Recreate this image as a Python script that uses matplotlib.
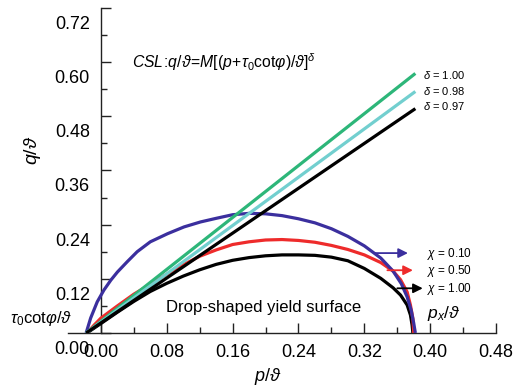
import matplotlib
matplotlib.use("Agg")
import matplotlib.pyplot as plt
import matplotlib.transforms as mtransforms
from matplotlib.ticker import FixedLocator

plt.rcParams['font.family'] = ['Liberation Sans', 'DejaVu Sans']
plt.rcParams['mathtext.fontset'] = 'custom'
plt.rcParams['mathtext.rm'] = 'Liberation Sans'
plt.rcParams['mathtext.it'] = 'Liberation Sans:italic'
plt.rcParams['mathtext.sf'] = 'Liberation Sans'

# critical state lines, q/theta against p/theta
csl_p = [-0.018, 0.382]
csl_deltas = ["1.00", "0.98", "0.97"]
csl_q = {
    "1.00": [0.0, 0.575],
    "0.98": [0.0, 0.535],
    "0.97": [0.0, 0.497],
}
csl_colors = {"1.00": "#2db679", "0.98": "#72cfcf", "0.97": "#000000"}
delta_label_q = [0.572, 0.535, 0.502]

# drop-shaped yield surfaces
chi_labels = ["0.10", "0.50", "1.00"]
ys_p = {
    "0.10": [-0.018, -0.0125, -0.0045, 0.0036, 0.012, 0.020, 0.032, 0.044, 0.060,
             0.081, 0.101, 0.121, 0.14, 0.16, 0.18, 0.20, 0.22, 0.24, 0.26, 0.28,
             0.30, 0.32, 0.34, 0.355, 0.365, 0.372, 0.377, 0.380, 0.382],
    "0.50": [-0.017, -0.008, 0.0, 0.02, 0.04, 0.06, 0.08, 0.10, 0.12, 0.14, 0.16,
             0.18, 0.20, 0.22, 0.24, 0.26, 0.28, 0.30, 0.32, 0.34, 0.355, 0.364,
             0.372, 0.376, 0.379, 0.380],
    "1.00": [-0.017, 0.0, 0.02, 0.04, 0.06, 0.08, 0.10, 0.12, 0.14, 0.16, 0.18,
             0.20, 0.22, 0.24, 0.26, 0.28, 0.30, 0.32, 0.34, 0.355, 0.364, 0.372,
             0.376, 0.378, 0.379],
}
ys_q = {
    "0.10": [0.0, 0.033, 0.069, 0.095, 0.117, 0.135, 0.158, 0.180, 0.202,
             0.220, 0.235, 0.246, 0.254, 0.262, 0.265, 0.264, 0.260, 0.253, 0.244, 0.231,
             0.214, 0.193, 0.166, 0.137, 0.109, 0.080, 0.050, 0.022, 0.0],
    "0.50": [0.0, 0.018, 0.033, 0.060, 0.086, 0.108, 0.130, 0.151, 0.170, 0.184, 0.196,
             0.202, 0.206, 0.207, 0.205, 0.201, 0.194, 0.185, 0.173, 0.156, 0.137, 0.118,
             0.091, 0.062, 0.032, 0.0],
    "1.00": [0.0, 0.021, 0.046, 0.070, 0.092, 0.110, 0.126, 0.140, 0.152, 0.161, 0.167,
             0.171, 0.173, 0.173, 0.172, 0.168, 0.160, 0.143, 0.121, 0.100, 0.084, 0.062,
             0.040, 0.018, 0.0],
}
ys_colors = {"0.10": "#3b2f9e", "0.50": "#ee2b2b", "1.00": "#000000"}

# arrows pointing to the chi labels
arrow_tail = {"0.10": 0.333, "0.50": 0.348, "1.00": 0.360}
arrow_tip = {"0.10": 0.373, "0.50": 0.379, "1.00": 0.391}
arrow_q = {"0.10": 0.177, "0.50": 0.139, "1.00": 0.099}

xticks = [0.0, 0.08, 0.16, 0.24, 0.32, 0.40, 0.48]
yticks = [0.0, 0.12, 0.24, 0.36, 0.48, 0.60, 0.72]

fig = plt.figure(figsize=(5.24, 3.88), dpi=100)
ax = fig.add_axes([0.1298, 0.1418, 0.8168, 0.8376])

# black drawn first so red and blue sit on top near px
for chi in chi_labels[::-1]:
    ax.plot(ys_p[chi], ys_q[chi], color=ys_colors[chi], lw=2.3,
            solid_capstyle='butt', solid_joinstyle='round', zorder=3)

for d in csl_deltas:
    ax.plot(csl_p, csl_q[d], color=csl_colors[d], lw=2.3, solid_capstyle='butt', zorder=4)

for chi in chi_labels:
    ax.annotate("", xy=(arrow_tip[chi], arrow_q[chi]), xytext=(arrow_tail[chi], arrow_q[chi]),
                arrowprops=dict(arrowstyle='-|>', color=ys_colors[chi], lw=1.3,
                                mutation_scale=14, shrinkA=0, shrinkB=0), zorder=5)
    ax.text(0.396, arrow_q[chi] - 0.002, r"$\chi$ = " + chi, fontsize=8.5,
            va='center', ha='left')

for d, qy in zip(csl_deltas, delta_label_q):
    ax.text(0.391, qy, r"$\delta$ = " + d, fontsize=8, va='center', ha='left')

ax.text(0.038, 0.599, r"$CSL\!:\!q/\vartheta\!=\!M[(p\!+\!\tau_0\mathrm{cot}\varphi)/\vartheta]^{\delta}$",
        fontsize=11.3, va='center', ha='left')
ax.text(0.079, 0.057, "Drop-shaped yield surface", fontsize=12, va='center', ha='left')
ax.text(-0.035, 0.033, r"$\tau_0\mathrm{cot}\varphi/\vartheta$", fontsize=12,
        va='center', ha='right', clip_on=False)
ax.text(0.396, 0.044, r"$p_x/\vartheta$", fontsize=12.5, va='center', ha='left')
ax.text(0.203, -0.097, r"$p/\vartheta$", fontsize=13, va='center', ha='center', clip_on=False)
ax.text(-0.083, 0.404, r"$q/\vartheta$", fontsize=14, va='center', ha='center',
        rotation=90, clip_on=False)

ax.set_xlim(-0.04, 0.48)
ax.set_ylim(0, 0.72)
ax.spines['left'].set_position(('data', 0))
ax.spines['top'].set_visible(False)
ax.spines['right'].set_visible(False)
for s in ['left', 'bottom']:
    ax.spines[s].set_linewidth(1.0)
    ax.spines[s].set_color('#222222')

ax.set_xticks(xticks)
ax.set_xticklabels([f"{v:.2f}" for v in xticks])
ax.set_yticks(yticks)
ax.set_yticklabels([f"{v:.2f}" for v in yticks])
ax.xaxis.set_minor_locator(FixedLocator([0.04, 0.12, 0.20, 0.28, 0.36, 0.44]))
ax.yaxis.set_minor_locator(FixedLocator([0.06, 0.18, 0.30, 0.42, 0.54, 0.66]))
ax.tick_params(which='major', direction='in', length=7, width=1.0, labelsize=13, pad=8,
               color='#222222')
ax.tick_params(which='minor', direction='in', length=4, width=1.0, color='#222222')

# y tick labels sit a little below their ticks
offset = mtransforms.ScaledTranslation(0, -0.145, fig.dpi_scale_trans)
for lbl in ax.get_yticklabels():
    lbl.set_transform(lbl.get_transform() + offset)

fig.savefig("out.png", dpi=100)
